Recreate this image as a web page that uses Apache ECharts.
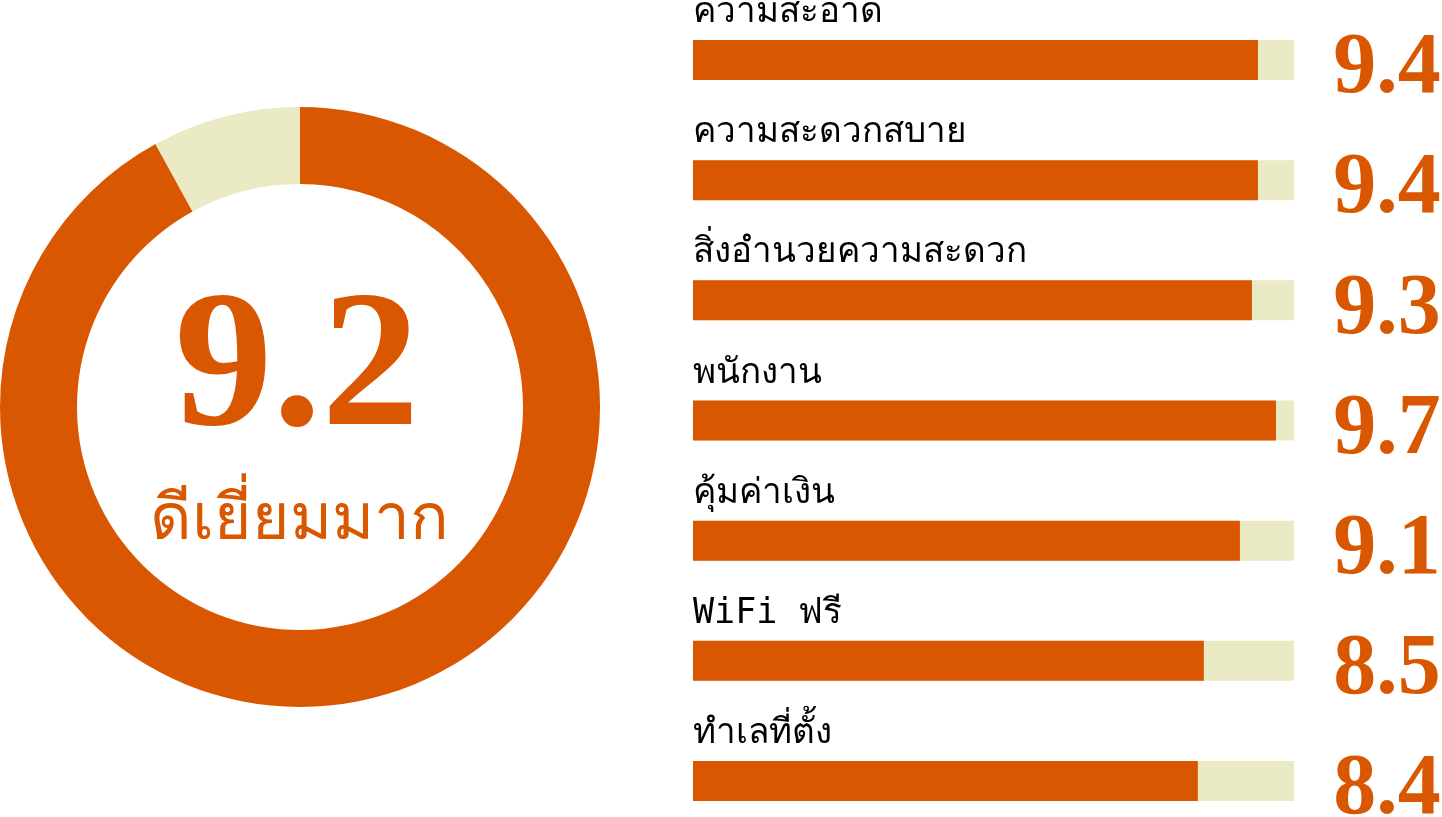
<!DOCTYPE html>
<html>
<head>
<meta charset="utf-8">
<script src="https://cdn.jsdelivr.net/npm/echarts@6/dist/echarts.min.js"></script>
<style>html,body{margin:0;padding:0;background:#fff;}#c{width:1442px;height:817px;}</style>
</head>
<body>
<div id="c"></div>
<script>
var categories = ['ความสะอาด', 'ความสะดวกสบาย', 'สิ่งอำนวยความสะดวก', 'พนักงาน', 'คุ้มค่าเงิน', 'WiFi ฟรี', 'ทำเลที่ตั้ง'];
var scores = [9.4, 9.4, 9.3, 9.7, 9.1, 8.5, 8.4];
var maxScore = 10;
var overallScore = 9.2;
var overallLabel = 'ดีเยี่ยมมาก';

var ORANGE = '#D95700';
var LIGHT = '#EAEAC4';

var chart = echarts.init(document.getElementById('c'));
chart.setOption({
  animation: false,
  grid: { left: 693, width: 601, top: 0, height: 841, outerBoundsMode: 'none', containLabel: false },
  xAxis: { type: 'value', min: 0, max: maxScore, show: false },
  yAxis: { type: 'category', data: categories, inverse: true, show: false },
  graphic: [
    {
      type: 'text', x: 297, y: 373,
      style: { text: String(overallScore), fill: ORANGE, font: 'bold 196px "Liberation Serif"', align: 'center', verticalAlign: 'middle' }
    },
    {
      type: 'text', x: 299, y: 521,
      style: { text: overallLabel, fill: ORANGE, font: '64px "Noto Sans"', align: 'center', verticalAlign: 'middle' }
    }
  ],
  series: [
    {
      type: 'pie',
      center: [300, 407],
      radius: [223, 300],
      startAngle: 90,
      clockwise: true,
      label: { show: false },
      labelLine: { show: false },
      silent: true,
      data: [
        { value: overallScore, itemStyle: { color: ORANGE } },
        { value: maxScore - overallScore, itemStyle: { color: LIGHT } }
      ]
    },
    {
      type: 'bar',
      barWidth: 40,
      barGap: '-100%',
      silent: true,
      itemStyle: { color: LIGHT },
      data: categories.map(function () { return maxScore; }),
      label: {
        show: true,
        position: [0, -27],
        align: 'left',
        verticalAlign: 'middle',
        formatter: function (p) { return categories[p.dataIndex]; },
        color: '#000',
        fontFamily: '"DejaVu Sans Mono", monospace',
        fontSize: 35
      },
      z: 1
    },
    {
      type: 'bar',
      barWidth: 40,
      barGap: '-100%',
      silent: true,
      itemStyle: { color: ORANGE },
      data: scores,
      z: 2,
      label: { show: false }
    },
    {
      type: 'bar',
      barWidth: 40,
      barGap: '-100%',
      silent: true,
      itemStyle: { color: 'rgba(0,0,0,0)' },
      data: categories.map(function () { return maxScore; }),
      label: {
        show: true,
        position: [694, 30],
        align: 'center',
        verticalAlign: 'middle',
        formatter: function (p) { return scores[p.dataIndex].toFixed(1); },
        color: ORANGE,
        fontFamily: '"Liberation Serif", serif',
        fontWeight: 'bold',
        fontSize: 86
      },
      z: 3
    }
  ]
});
</script>
</body>
</html>
